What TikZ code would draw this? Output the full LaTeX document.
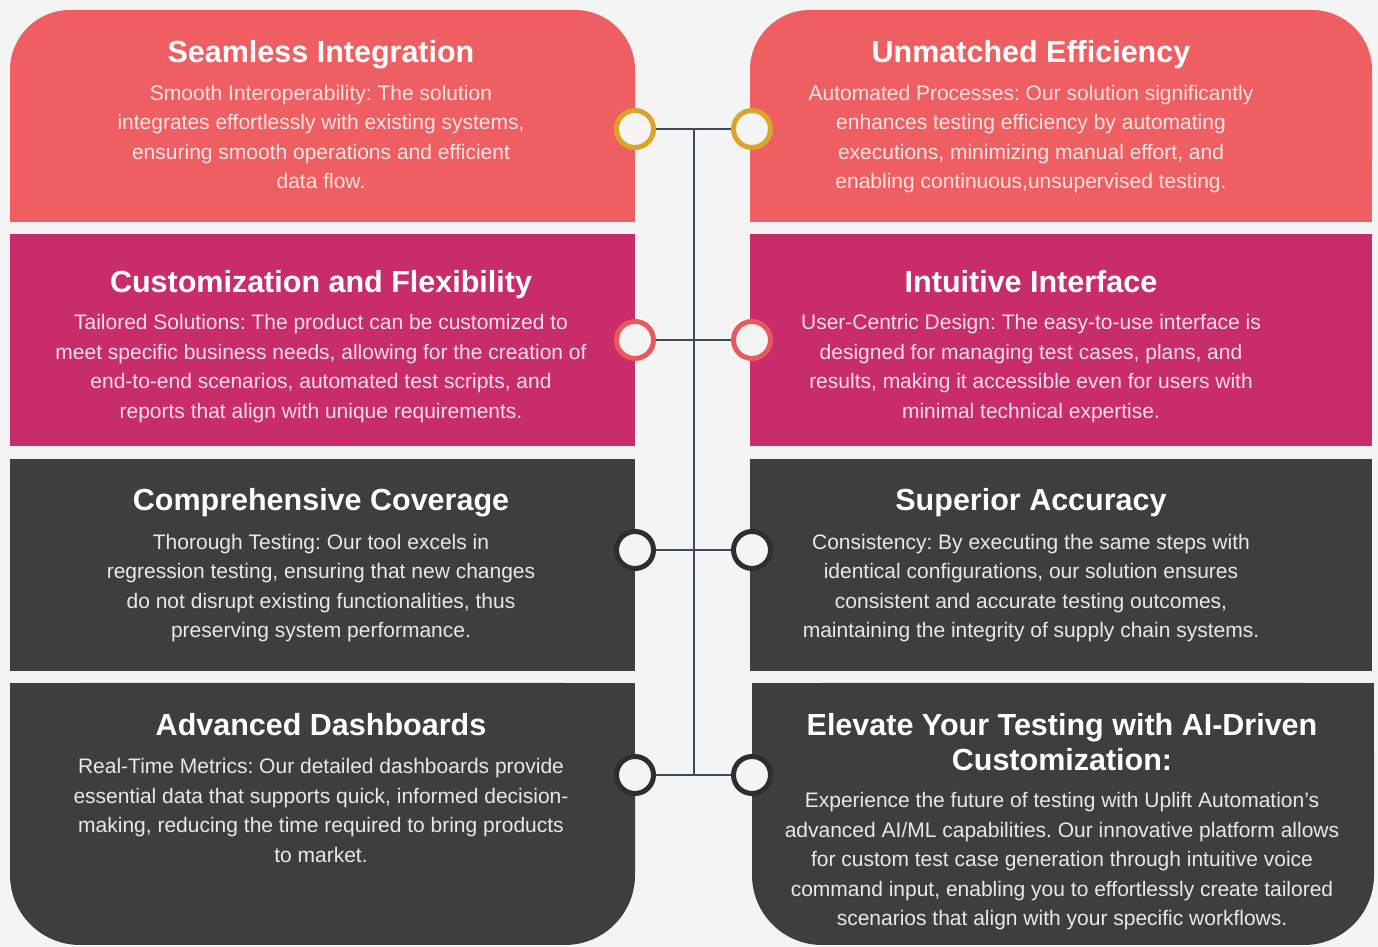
\documentclass[tikz,border=0pt]{standalone}
\usepackage{fontspec}
\setmainfont{Liberation Sans}
\frenchspacing
\definecolor{bg}{HTML}{F4F4F4}
\definecolor{coral}{HTML}{EF5F62}
\definecolor{mag}{HTML}{C82C6A}
\definecolor{dark}{HTML}{3E3E3E}
\definecolor{gold}{HTML}{D9A528}
\definecolor{ringred}{HTML}{E8585C}
\definecolor{ringdark}{HTML}{2E2E2E}
\definecolor{conn}{HTML}{3C4A5A}
\definecolor{txtcoral}{HTML}{FBE3E3}
\definecolor{txtmag}{HTML}{F6DEE9}
\definecolor{txtdark}{HTML}{E8E8E8}
\tikzset{
  ttl/.style={text=white,font=\bfseries\fontsize{30.5}{35}\selectfont,align=center,inner sep=0pt},
  bdy/.style={font=\fontsize{21}{29.5}\selectfont,align=center,inner sep=0pt},
  ring/.style={circle,minimum size=37pt,inner sep=0pt,line width=5pt,fill=bg},
  connline/.style={draw=conn,line width=2.5pt}
}
\begin{document}
\begin{tikzpicture}[x=1pt,y=1pt]
\fill[bg] (0,0) rectangle (1378,947);
\useasboundingbox (0,0) rectangle (1378,947);
% row 1
\fill[coral,rounded corners=60pt] (10,725) rectangle (635,937);
\fill[coral] (10,725) rectangle (635,840);
\fill[coral,rounded corners=60pt] (750,725) rectangle (1372,937);
\fill[coral] (750,725) rectangle (1372,840);
% row 2
\fill[mag] (10,501) rectangle (635,713);
\fill[mag] (750,501) rectangle (1372,713);
% row 3
\fill[dark] (10,276) rectangle (635,488);
\fill[dark] (750,276) rectangle (1372,488);
% row 4
\fill[dark,rounded corners=70pt] (10,2) rectangle (635,264);
\fill[dark] (10,140) rectangle (635,264);
\fill[dark,rounded corners=70pt] (752,2) rectangle (1374,264);
\fill[dark] (752,140) rectangle (1374,264);

% texts
\node[ttl] (t1l) at (321,892) {Seamless Integration};
\node[bdy,text=txtcoral] (b1l) at (321,810) {Smooth Interoperability: The solution\\integrates effortlessly with existing systems,\\ensuring smooth operations and efficient\\data flow.};
\node[ttl] (t1r) at (1031,892) {Unmatched Efficiency};
\node[bdy,text=txtcoral] (b1r) at (1031,808) {Automated Processes: Our solution significantly\\enhances testing efficiency by automating\\executions, minimizing manual effort, and\\enabling continuous,unsupervised testing.};

\node[ttl] (t2l) at (321,662) {Customization and Flexibility};
\node[bdy,text=txtmag] (b2l) at (321,578.5) {Tailored Solutions: The product can be customized to\\meet specific business needs, allowing for the creation of\\end-to-end scenarios, automated test scripts, and\\reports that align with unique requirements.};
\node[ttl] (t2r) at (1031,665) {Intuitive Interface};
\node[bdy,text=txtmag] (b2r) at (1031,578.5) {User-Centric Design: The easy-to-use interface is\\designed for managing test cases, plans, and\\results, making it accessible even for users with\\minimal technical expertise.};

\node[ttl] (t3l) at (321,444) {Comprehensive Coverage};
\node[bdy,text=txtdark] (b3l) at (321,359) {Thorough Testing: Our tool excels in\\regression testing, ensuring that new changes\\do not disrupt existing functionalities, thus\\preserving system performance.};
\node[ttl] (t3r) at (1031,444) {Superior Accuracy};
\node[bdy,text=txtdark] (b3r) at (1031,359) {Consistency: By executing the same steps with\\identical configurations, our solution ensures\\consistent and accurate testing outcomes,\\maintaining the integrity of supply chain systems.};

\node[ttl] (t4l) at (321,222) {Advanced Dashboards};
\node[bdy,text=txtdark] (b4l) at (321,136.5) {Real-Time Metrics: Our detailed dashboards provide\\essential data that supports quick, informed decision-\\making, reducing the time required to bring products\\to market.};
\node[ttl] (t4r) at (1062,204.5) {Elevate Your Testing with AI-Driven\\Customization:};
\node[bdy,text=txtdark] (b4r) at (1062,85.5) {Experience the future of testing with Uplift Automation's\\advanced AI/ML capabilities. Our innovative platform allows\\for custom test case generation through intuitive voice\\command input, enabling you to effortlessly create tailored\\scenarios that align with your specific workflows.};

% rings
\node[ring,draw=gold] (L1) at (635,818) {};
\node[ring,draw=gold] (R1) at (752,818) {};
\node[ring,draw=ringred] (L2) at (635,607) {};
\node[ring,draw=ringred] (R2) at (752,607) {};
\node[ring,draw=ringdark] (L3) at (635,397) {};
\node[ring,draw=ringdark] (R3) at (752,397) {};
\node[ring,draw=ringdark] (L4) at (635,172) {};
\node[ring,draw=ringdark] (R4) at (752,172) {};
\coordinate (J1) at (694,818);
\coordinate (J4) at (694,172);

% connectors
\draw[connline] (L1) -- (R1);
\draw[connline] (L2) -- (R2);
\draw[connline] (L3) -- (R3);
\draw[connline] (L4) -- (R4);
\draw[connline] (J1) -- (J4);
\end{tikzpicture}
\end{document}
